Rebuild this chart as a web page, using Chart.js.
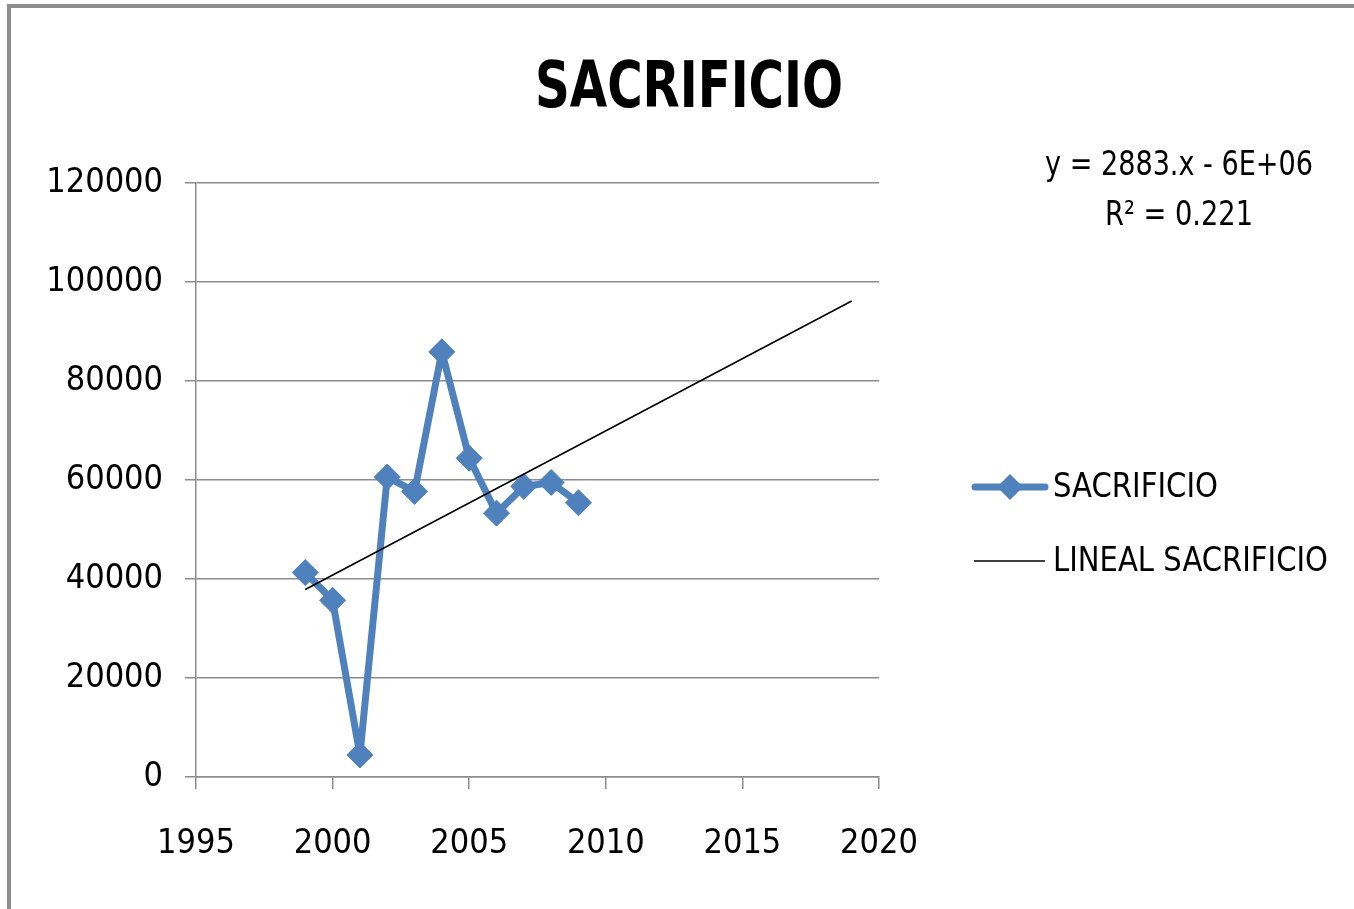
<!DOCTYPE html>
<html>
<head>
<meta charset="utf-8">
<title>SACRIFICIO</title>
<script src="https://cdn.jsdelivr.net/npm/chart.js@4.4.1/dist/chart.umd.min.js"></script>
<style>
  body { margin: 0; background: #fff; }
  #wrap { position: relative; width: 1354px; height: 909px; overflow: hidden; }
  #frame {
    position: absolute; left: 7px; top: 4px; right: -10px; bottom: -10px;
    border-left: 4px solid #8e8e8e; border-top: 4px solid #8e8e8e;
    pointer-events: none;
  }
  canvas { position: absolute; left: 0; top: 0; }
</style>
</head>
<body>
<div id="wrap">
  <canvas id="myChart" width="1354" height="909"></canvas>
  <div id="frame"></div>
</div>
<script>
// data
const years = [1999, 2000, 2001, 2002, 2003, 2004, 2005, 2006, 2007, 2008, 2009];
const sacrificio = [41300, 35700, 4450, 60600, 57700, 85900, 64400, 53300, 58700, 59500, 55400];
const trendRange = [1999, 2019]; // excel trendline, forecast forward 10 years
const xTicks = [1995, 2000, 2005, 2010, 2015, 2020];
const yTicks = [0, 20000, 40000, 60000, 80000, 100000, 120000];
const chartTitle = "SACRIFICIO";
const seriesName = "SACRIFICIO";
const trendName = "LINEAL SACRIFICIO";
const equation = ["y = 2883.x - 6E+06", "R\u00B2 = 0.221"];

const blue = "#4f81bd";
const gray = "#8c8c8c";
const narrow = '"DejaVu Sans Condensed", "Liberation Sans", sans-serif';

// least squares line, like excel's "lineal" trendline
const n = years.length;
const mx = years.reduce((a, b) => a + b, 0) / n;
const my = sacrificio.reduce((a, b) => a + b, 0) / n;
let sxy = 0, sxx = 0;
years.forEach((x, i) => {
  sxy += (x - mx) * (sacrificio[i] - my);
  sxx += (x - mx) * (x - mx);
});
const slope = sxy / sxx;
const trendPoints = trendRange.map((x) => ({ x: x, y: my + slope * (x - mx) }));

const points = years.map((x, i) => ({ x: x, y: sacrificio[i] }));

// draw text squeezed to a given width (the original font is narrower)
function drawText(c, text, x, y, font, width, align) {
  c.font = font;
  const w = c.measureText(text).width;
  const k = Math.min(1, width / w);
  c.save();
  c.translate(x, y);
  c.scale(k, 1);
  c.textAlign = align;
  c.textBaseline = "middle";
  c.fillText(text, 0, 0);
  c.restore();
}

const annotations = {
  id: "annotations",
  afterDraw(chart) {
    const c = chart.ctx;
    c.save();
    c.fillStyle = "#000";
    drawText(c, chartTitle, 689, 90, "bold 64px " + narrow, 308, "center");

    drawText(c, equation[0], 1179, 166, "34px " + narrow, 268, "center");
    drawText(c, equation[1], 1179, 216, "34px " + narrow, 148, "center");

    // legend
    c.strokeStyle = blue;
    c.lineWidth = 7;
    c.lineCap = "round";
    c.beginPath();
    c.moveTo(975, 487);
    c.lineTo(1045, 487);
    c.stroke();
    c.fillStyle = blue;
    c.beginPath();
    c.moveTo(997, 487);
    c.lineTo(1010, 474);
    c.lineTo(1023, 487);
    c.lineTo(1010, 500);
    c.closePath();
    c.fill();

    c.strokeStyle = "#000";
    c.lineWidth = 1.5;
    c.lineCap = "butt";
    c.beginPath();
    c.moveTo(974, 561);
    c.lineTo(1045, 561);
    c.stroke();

    c.fillStyle = "#000";
    drawText(c, seriesName, 1053, 488, "34px " + narrow, 165, "left");
    drawText(c, trendName, 1053, 562, "34px " + narrow, 275, "left");
    c.restore();
  },
};

const ctx = document.getElementById("myChart");

const myChart = new Chart(ctx, {
  type: "scatter",
  data: {
    datasets: [
      {
        label: seriesName,
        data: points,
        showLine: true,
        borderColor: blue,
        backgroundColor: blue,
        borderWidth: 7,
        borderJoinStyle: "round",
        pointStyle: "rectRot",
        pointRadius: 13,
        pointBorderWidth: 1,
        order: 2,
      },
      {
        label: trendName,
        data: trendPoints,
        showLine: true,
        borderColor: "#000",
        borderWidth: 1.5,
        pointRadius: 0,
        order: 1,
      },
    ],
  },
  options: {
    responsive: false,
    animation: false,
    layout: { padding: { left: 0, top: 183, right: 475, bottom: 0 } },
    plugins: {
      legend: { display: false },
      title: { display: false },
      tooltip: { enabled: false },
    },
    scales: {
      x: {
        type: "linear",
        min: xTicks[0],
        max: xTicks[xTicks.length - 1],
        afterBuildTicks: (s) => { s.ticks = xTicks.map((v) => ({ value: v })); },
        afterFit: (s) => { s.height = 132; },
        border: { display: true, color: gray, width: 1.5 },
        grid: { drawOnChartArea: false, drawTicks: true, tickLength: 12, color: gray, lineWidth: 1.5 },
        ticks: {
          color: "#000",
          font: { family: narrow, size: 34 },
          padding: 35,
          maxRotation: 0,
          callback: (v) => String(v),
        },
      },
      y: {
        min: yTicks[0],
        max: yTicks[yTicks.length - 1],
        afterBuildTicks: (s) => { s.ticks = yTicks.map((v) => ({ value: v })); },
        afterFit: (s) => { s.width = 196; },
        border: { display: true, color: gray, width: 1.5 },
        grid: { drawOnChartArea: true, drawTicks: true, tickLength: 11, color: gray, lineWidth: 1.5 },
        ticks: {
          color: "#000",
          font: { family: narrow, size: 34 },
          padding: 22,
          callback: (v) => String(v),
        },
      },
    },
  },
  plugins: [annotations],
});
</script>
</body>
</html>
